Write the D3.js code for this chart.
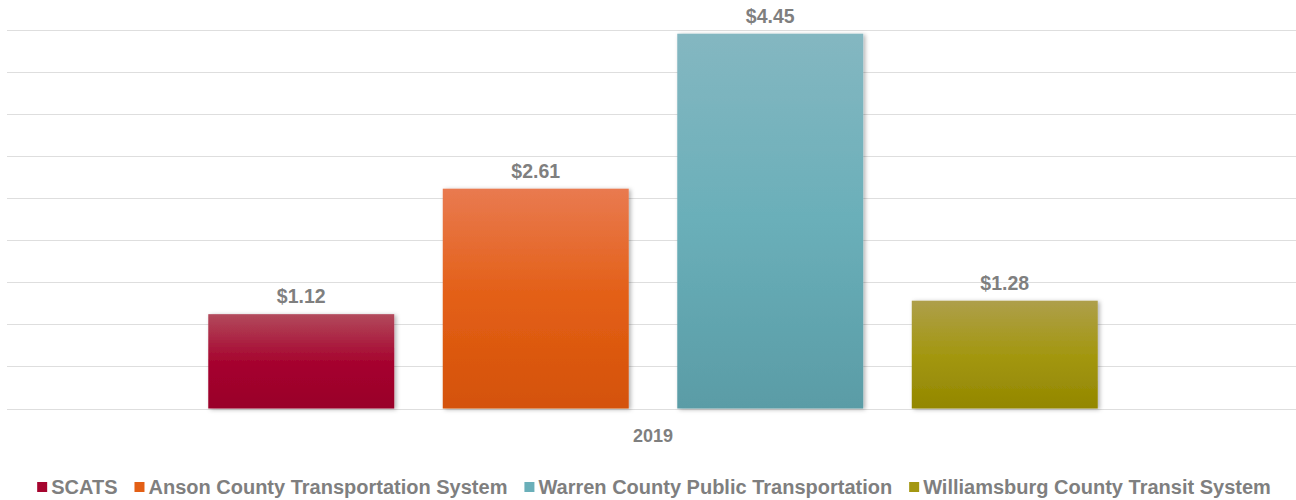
<!DOCTYPE html>
<html>
<head>
<meta charset="utf-8">
<script src="https://cdn.jsdelivr.net/npm/d3@7"></script>
<style>
  body { margin: 0; background: #fff; }
  text { font-family: "Liberation Sans", Arial, sans-serif; font-weight: bold; fill: #7f7f7f; }
</style>
</head>
<body>
<div id="chart"></div>
<script>
// Data
const categories = ["2019"];
const seriesNames = [
  "SCATS",
  "Anson County Transportation System",
  "Warren County Public Transportation",
  "Williamsburg County Transit System"
];
const seriesValues = [1.12, 2.61, 4.45, 1.28];
const yTicks = [0, 0.5, 1, 1.5, 2, 2.5, 3, 3.5, 4, 4.5];

// Style
const size = { width: 1296, height: 500 };
const margin = { left: 7, right: 0, top: 29.5, bottom: 91.5 };
const gradients = [
  ["#b24a5c", "#a6052f", "#990029"],
  ["#e97a50", "#e35f15", "#d4520a"],
  ["#84b7c1", "#6aafb9", "#5a9ca6"],
  ["#ae9f4a", "#a39711", "#938700"]
];
const swatch = ["#a6052f", "#e35f15", "#6aafb9", "#a39711"];

const svg = d3.select("#chart")
  .append("svg")
  .attr("width", size.width)
  .attr("height", size.height);

const defs = svg.append("defs");
gradients.forEach((g, i) => {
  const lg = defs.append("linearGradient")
    .attr("id", "grad" + i)
    .attr("x1", 0).attr("y1", 0).attr("x2", 0).attr("y2", 1);
  lg.append("stop").attr("offset", "0%").attr("stop-color", g[0]);
  lg.append("stop").attr("offset", "50%").attr("stop-color", g[1]);
  lg.append("stop").attr("offset", "100%").attr("stop-color", g[2]);
});
defs.append("filter")
  .attr("id", "shadow")
  .attr("x", "-10%").attr("y", "-10%").attr("width", "130%").attr("height", "130%")
  .append("feDropShadow")
  .attr("dx", 2).attr("dy", 1)
  .attr("stdDeviation", 2)
  .attr("flood-color", "#000")
  .attr("flood-opacity", 0.3);

// Scales
const yScale = d3.scaleLinear([0, 4.5], [size.height - margin.bottom, margin.top]);
const x0 = d3.scaleBand(categories, [8, 1298]).padding(0);
const x1 = d3.scaleBand(seriesNames, [0, x0.bandwidth()])
  .paddingInner(0.207)
  .paddingOuter(0.854);

// Gridlines
svg.append("g")
  .selectAll("line")
  .data(yTicks)
  .join("line")
  .attr("x1", margin.left)
  .attr("x2", size.width - margin.right)
  .attr("y1", (d) => Math.round(yScale(d)) + 0.5)
  .attr("y2", (d) => Math.round(yScale(d)) + 0.5)
  .attr("stroke", "#dedede")
  .attr("stroke-width", 1);

// Bars
const group = svg.append("g")
  .attr("transform", `translate(${x0(categories[0])},0)`);

group.selectAll("rect")
  .data(seriesValues)
  .join("rect")
  .attr("x", (d, i) => x1(seriesNames[i]))
  .attr("y", (d) => yScale(d))
  .attr("width", x1.bandwidth())
  .attr("height", (d) => yScale(0) - yScale(d))
  .attr("fill", (d, i) => `url(#grad${i})`)
  .attr("filter", "url(#shadow)");

// Value labels
group.selectAll("text.value")
  .data(seriesValues)
  .join("text")
  .attr("class", "value")
  .attr("x", (d, i) => x1(seriesNames[i]) + x1.bandwidth() / 2)
  .attr("y", (d) => yScale(d) - 11)
  .attr("text-anchor", "middle")
  .style("font-size", "19.5px")
  .text((d) => "$" + d.toFixed(2));

// Category axis label
svg.append("g")
  .selectAll("text")
  .data(categories)
  .join("text")
  .attr("x", (d) => x0(d) + x0.bandwidth() / 2)
  .attr("y", yScale(0) + 33)
  .attr("text-anchor", "middle")
  .style("font-size", "18px")
  .text((d) => d);

// Legend
const legend = svg.append("g");
const items = legend.selectAll("g")
  .data(seriesNames)
  .join("g");
items.append("rect")
  .attr("width", 10)
  .attr("height", 10)
  .attr("y", -12)
  .attr("fill", (d, i) => swatch[i]);
items.append("text")
  .attr("x", 14)
  .attr("y", 0)
  .style("font-size", "20px")
  .text((d) => d);

let xPos = 0;
const gap = 17;
items.each(function () {
  const w = 14 + this.querySelector("text").getComputedTextLength();
  d3.select(this).attr("transform", `translate(${xPos},0)`);
  xPos += w + gap;
});
const legendWidth = xPos - gap;
legend.attr("transform", `translate(${(36 + 1272) / 2 - legendWidth / 2},494)`);
</script>
</body>
</html>
